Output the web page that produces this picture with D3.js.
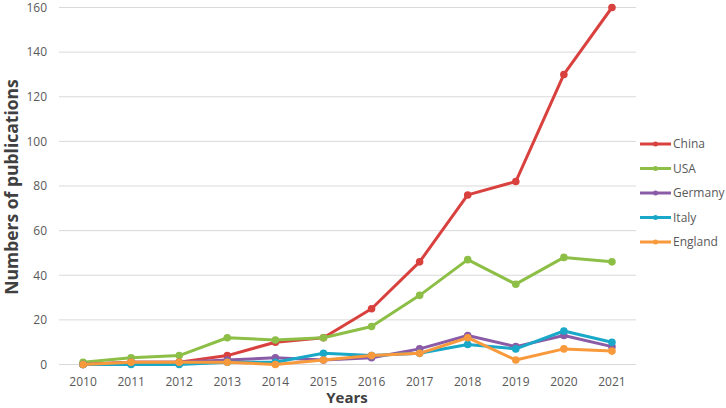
<!DOCTYPE html>
<html>
<head>
<meta charset="utf-8">
<script src="https://cdn.jsdelivr.net/npm/d3@7"></script>
<style>
    body { margin: 0; background: #fff; }
    text { font-family: "Open Sans", "Noto Sans", sans-serif; }
</style>
</head>
<body>
<div id="chart"></div>
<script>
var years = ["2010", "2011", "2012", "2013", "2014", "2015", "2016", "2017", "2018", "2019", "2020", "2021"];
var y_ticks = [0, 20, 40, 60, 80, 100, 120, 140, 160];

var china = [0, 1, 1, 4, 10, 12, 25, 46, 76, 82, 130, 160];
var usa = [1, 3, 4, 12, 11, 12, 17, 31, 47, 36, 48, 46];
var germany = [0, 1, 1, 2, 3, 2, 3, 7, 13, 8, 13, 8];
var italy = [0, 0, 0, 1, 1, 5, 4, 5, 9, 7, 15, 10];
var england = [0, 1, 1, 1, 0, 2, 4, 5, 12, 2, 7, 6];

var series_names = ["China", "USA", "Germany", "Italy", "England"];
var series_values = [china, usa, germany, italy, england];
var series_colors = ["#D8413E", "#8DBF47", "#8A5BA6", "#19A8C7", "#F8993C"];

var width = 726;
var height = 408;

var svg = d3.select("#chart").append("svg")
            .attr("width", width)
            .attr("height", height);

var x_scale = d3.scaleBand()
                .domain(years)
                .range([59, 636]);

var y_scale = d3.scaleLinear()
                .domain([0, 160])
                .range([364.5, 7.5]);

function x_center(year)
{
    return x_scale(year) + x_scale.bandwidth() / 2;
}

// gridlines
svg.append("g")
   .selectAll("line")
   .data(y_ticks)
   .enter().append("line")
   .attr("x1", 59)
   .attr("x2", 636)
   .attr("y1", function (d) { return y_scale(d); })
   .attr("y2", function (d) { return y_scale(d); })
   .attr("stroke", "#D9D9D9")
   .attr("stroke-width", 1);

// y axis labels
var y_axis = d3.axisLeft(y_scale).tickValues(y_ticks).tickSize(0).tickPadding(0);
var y_axis_group = svg.append("g")
                      .attr("transform", "translate(47,0)")
                      .call(y_axis);
y_axis_group.select(".domain").remove();
y_axis_group.selectAll("text")
            .attr("fill", "#595959")
            .style("font-size", "12px");

// x axis labels
var x_axis = d3.axisBottom(x_scale).tickSize(0).tickPadding(0);
var x_axis_group = svg.append("g")
                      .attr("transform", "translate(0,377)")
                      .call(x_axis);
x_axis_group.select(".domain").remove();
x_axis_group.selectAll("text")
            .attr("fill", "#595959")
            .style("font-size", "12px");

// axis titles
svg.append("text")
   .attr("x", 347)
   .attr("y", 403)
   .attr("text-anchor", "middle")
   .attr("fill", "#404040")
   .style("font-size", "15px")
   .style("font-weight", "bold")
   .text("Years");

svg.append("text")
   .attr("transform", "translate(18,187)rotate(-90)")
   .attr("text-anchor", "middle")
   .attr("fill", "#404040")
   .style("font-size", "17.5px")
   .style("font-weight", "bold")
   .text("Numbers of publications");

var line = d3.line()
             .x(function (d, i) { return x_center(years[i]); })
             .y(function (d) { return y_scale(d); });

for (var index in series_values)
{
    var values = series_values[index];
    var color = series_colors[index];

    svg.append("path")
       .datum(values)
       .attr("d", line)
       .attr("fill", "none")
       .attr("stroke", color)
       .attr("stroke-width", 3)
       .attr("stroke-linejoin", "round");

    svg.append("g")
       .selectAll("circle")
       .data(values)
       .enter().append("circle")
       .attr("cx", function (d, i) { return x_center(years[i]); })
       .attr("cy", function (d) { return y_scale(d); })
       .attr("r", 3.8)
       .attr("fill", color);
}

// legend
var legend_y = d3.scalePoint()
                 .domain(series_names)
                 .range([144, 242]);

var legend = svg.append("g")
                .selectAll("g")
                .data(series_names)
                .enter().append("g")
                .attr("transform", function (d) { return "translate(0," + legend_y(d) + ")"; });

legend.append("line")
      .attr("x1", 640)
      .attr("x2", 671)
      .attr("stroke", function (d, i) { return series_colors[i]; })
      .attr("stroke-width", 3);

legend.append("circle")
      .attr("cx", 655.5)
      .attr("r", 2.5)
      .attr("fill", function (d, i) { return series_colors[i]; });

legend.append("text")
      .attr("x", 673)
      .attr("dy", "0.35em")
      .attr("fill", "#595959")
      .style("font-size", "12px")
      .text(function (d) { return d; });
</script>
</body>
</html>
